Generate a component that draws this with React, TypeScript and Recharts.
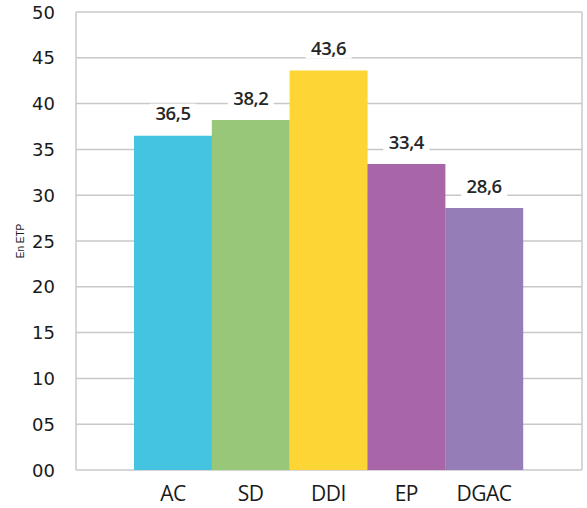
import React from "react";
import { BarChart, Bar, XAxis, YAxis, CartesianGrid, Cell, LabelList } from "recharts";

const categories = ["AC", "SD", "DDI", "EP", "DGAC"];
const values = [36.5, 38.2, 43.6, 33.4, 28.6];
const colors = ["#45C4E2", "#98C77A", "#FDD535", "#A865A8", "#957DB8"];
const yTicks = [0, 5, 10, 15, 20, 25, 30, 35, 40, 45, 50];

const data = categories.map((c, i) => ({ name: c, value: values[i] }));

const fmtTick = (v: number) => (v < 10 ? "0" + v : String(v));
const fmtVal = (v: number) => v.toFixed(1).replace(".", ",");

const YTick = (props: any) => {
  const { x, y, payload } = props;
  return (
    <text x={x - 13} y={y} dy={6.5} textAnchor="end" fontFamily="DejaVu Sans" fontSize={18} fill="#1a1a1a">
      {fmtTick(payload.value)}
    </text>
  );
};

const XTick = (props: any) => {
  const { x, y, payload } = props;
  return (
    <text x={x} y={y} dy={23} textAnchor="middle" fontFamily="Open Sans" fontSize={21} letterSpacing={-0.5} fill="#1a1a1a">
      {payload.value}
    </text>
  );
};

const ValueLabel = (props: any) => {
  const { x, y, width, value } = props;
  const cx = x + width / 2;
  const cy = y - 22;
  const w = 46;
  const h = 20;
  return (
    <g>
      <rect x={cx - w / 2} y={cy - h / 2} width={w} height={h} fill="#fff" />
      <text x={cx} y={cy} dy={6.5} textAnchor="middle" fontFamily="Open Sans" fontWeight={600} fontSize={18.5} letterSpacing={-0.4} fill="#262626">
        {fmtVal(value)}
      </text>
    </g>
  );
};

export default function App() {
  return (
    <div style={{ position: "absolute", left: 0, top: 0, width: 587, height: 508, background: "#fff" }}>
      <BarChart
        width={587}
        height={508}
        data={data}
        margin={{ top: 12, right: 5, bottom: 0, left: 0 }}
        barCategoryGap={0}
      >
        <CartesianGrid
          stroke="#c8c8c8"
          strokeWidth={1.5}
          verticalCoordinatesGenerator={({ offset }: any) => [offset.left, offset.left + offset.width]}
        />
        <XAxis
          dataKey="name"
          height={38}
          padding={{ left: 58, right: 59 }}
          axisLine={false}
          tickLine={false}
          tick={<XTick />}
          interval={0}
        />
        <YAxis
          width={76}
          domain={[0, 50]}
          ticks={yTicks}
          axisLine={false}
          tickLine={false}
          tick={<YTick />}
          interval={0}
          label={{
            value: "En ETP",
            angle: -90,
            position: "insideLeft",
            dx: 15,
            style: { fontFamily: "Liberation Sans", fontSize: 10, fill: "#1a1a1a", textAnchor: "middle" },
          }}
        />
        <Bar dataKey="value" isAnimationActive={false}>
          {data.map((d, i) => (
            <Cell key={d.name} fill={colors[i]} />
          ))}
          <LabelList dataKey="value" content={<ValueLabel />} />
        </Bar>
      </BarChart>
    </div>
  );
}
